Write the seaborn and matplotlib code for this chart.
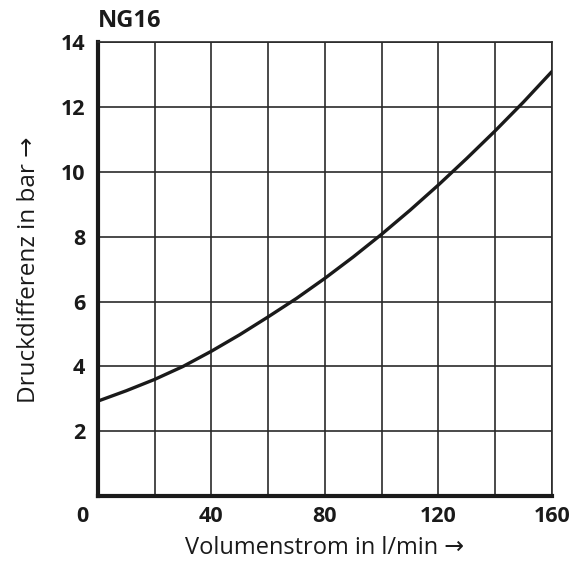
import numpy as np
import pandas as pd
import matplotlib
matplotlib.use("Agg")
import matplotlib.pyplot as plt
import matplotlib.transforms as mtransforms
import seaborn as sns

# values (flow in l/min, pressure difference in bar)
flow = [0, 10, 20, 30, 40, 50, 60, 70, 80, 90, 100, 110, 120, 130, 140, 150, 160]
dp = [2.93, 3.25, 3.6, 4.0, 4.47, 4.98, 5.53, 6.1, 6.72, 7.38, 8.08, 8.82, 9.6, 10.42, 11.27, 12.16, 13.1]
xticks = [0, 20, 40, 60, 80, 100, 120, 140, 160]
xlabels = ["0", "", "40", "", "80", "", "120", "", "160"]
yticks = [0, 2, 4, 6, 8, 10, 12, 14]
ylabels = ["", "2", "4", "6", "8", "10", "12", "14"]

df = pd.DataFrame({"flow": flow, "dp": dp})

sns.set_style("white")
plt.rcParams["font.family"] = ["Open Sans", "DejaVu Sans"]

fig = plt.figure(figsize=(5.76, 5.62), dpi=100)
ax = fig.add_axes([0.170, 0.1174, 0.788, 0.807])

sns.lineplot(data=df, x="flow", y="dp", ax=ax, color="#1a1a1a", linewidth=2.4, zorder=3)

ax.set_xlim(0, 160)
ax.set_ylim(0, 14)
ax.set_xticks(xticks)
ax.set_xticklabels(xlabels, fontweight="bold", fontsize=15.5, color="#1a1a1a")
ax.set_yticks(yticks)
ax.set_yticklabels(ylabels, fontweight="bold", fontsize=15.5, color="#1a1a1a")
ax.tick_params(axis="both", length=0)
ax.tick_params(axis="x", pad=7)
ax.tick_params(axis="y", pad=9)

ax.grid(True, color="#2a2a2a", linewidth=1.2)
ax.set_axisbelow(True)

for side in ["top", "right"]:
    ax.spines[side].set_linewidth(1.2)
    ax.spines[side].set_color("#2a2a2a")
for side in ["left", "bottom"]:
    ax.spines[side].set_linewidth(3)
    ax.spines[side].set_color("#1a1a1a")

# shift the "0" label left of the axis corner
lbl0 = ax.get_xticklabels()[0]
lbl0.set_transform(lbl0.get_transform() + mtransforms.ScaledTranslation(-16 / 100, 0, fig.dpi_scale_trans))

ax.set_xlabel("Volumenstrom in l/min →", fontsize=17, color="#1a1a1a", labelpad=7)
ax.set_ylabel("Druckdifferenz in bar →", fontsize=17.5, color="#1a1a1a", labelpad=14)

fig.text(0.170, 0.962, "NG16", fontsize=17, fontweight="bold", color="#1a1a1a",
         ha="left", va="center")

fig.savefig("out.png", dpi=100)
